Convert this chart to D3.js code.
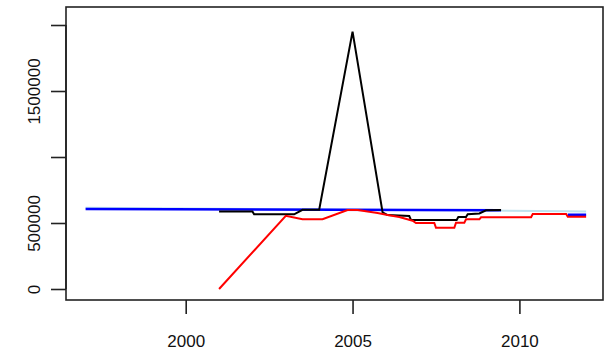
<!DOCTYPE html>
<html>
<head>
<meta charset="utf-8">
<script src="https://cdn.jsdelivr.net/npm/d3@7"></script>
<style>
html,body{margin:0;padding:0;background:#fff;}
svg{display:block;}
</style>
</head>
<body>
<svg id="chart" width="604" height="351"></svg>
<script>
// ---- data ----
const xTicks = [2000, 2005, 2010];
const yTicks = [0, 500000, 1000000, 1500000, 2000000];
const yTickLabels = ["0", "500000", "", "1500000", ""];

const lightBlueYears  = [1997, 2011.45, 2012];
const lightBlueValues = [615000, 589000, 588000];

const blueYears  = [1997, 2009.45, null, 2011.45, 2012];
const blueValues = [606000, 596000, null, 563000, 563000];

const blackYears  = [2001, 2002, 2002.05, 2003.25, 2003.5, 2004, 2005, 2005.9, 2006.05, 2006.7, 2006.75, 2008.12, 2008.17, 2008.4, 2008.45, 2008.8, 2009.0, 2009.45];
const blackValues = [588000, 588000, 566000, 566000, 600000, 600000, 1950000, 580000, 560000, 553000, 523000, 523000, 545000, 545000, 566000, 572000, 596000, 598000];

const redYears  = [2001, 2003.0, 2003.5, 2004.1, 2004.85, 2005.15, 2005.5, 2005.75, 2006.05, 2006.4, 2006.8, 2006.9, 2007.45, 2007.5, 2008.05, 2008.1, 2008.35, 2008.4, 2008.8, 2008.85, 2010.35, 2010.4, 2011.4, 2011.45, 2012.0];
const redValues = [0, 555000, 528000, 528000, 598000, 598000, 585000, 576000, 561000, 545000, 517000, 500000, 500000, 464000, 464000, 502000, 502000, 528000, 528000, 543000, 543000, 568000, 568000, 548000, 548000];

// ---- layout ----
const svg = d3.select("#chart");
const box = {left: 66, right: 603, top: 7, bottom: 300};

const x = d3.scaleLinear().domain([2000, 2010]).range([185.7, 519.4]);
const y = d3.scaleLinear().domain([0, 2000000]).range([289, 25]);

function pts(xs, vs) { return xs.map((d, i) => ({x: d, v: vs[i]})); }

const line = d3.line()
  .defined(d => d.x !== null && d.v !== null)
  .x(d => x(d.x)).y(d => y(d.v));

const g = svg.append("g");

g.append("path").datum(pts(lightBlueYears, lightBlueValues))
  .attr("d", line).attr("fill", "none").attr("stroke", "#bfe2ee").attr("stroke-width", 2);
g.append("path").datum(pts(blueYears, blueValues))
  .attr("d", line).attr("fill", "none").attr("stroke", "#0000ff").attr("stroke-width", 2.5);
g.append("path").datum(pts(blackYears, blackValues))
  .attr("d", line).attr("fill", "none").attr("stroke", "#000").attr("stroke-width", 2);
g.append("path").datum(pts(redYears, redValues))
  .attr("d", line).attr("fill", "none").attr("stroke", "#ff0000").attr("stroke-width", 2);

// box
svg.append("rect")
  .attr("x", box.left).attr("y", box.top)
  .attr("width", box.right - box.left).attr("height", box.bottom - box.top)
  .attr("fill", "none").attr("stroke", "#222").attr("stroke-width", 1.6);

// x axis
const xAxis = d3.axisBottom(x).tickValues(xTicks).tickFormat(d3.format("d"))
  .tickSizeInner(14).tickSizeOuter(0).tickPadding(21);
const gx = svg.append("g").attr("transform", `translate(0,${box.bottom})`).call(xAxis);
gx.select(".domain").remove();
gx.selectAll(".tick line").attr("stroke", "#222").attr("stroke-width", 1.6);
gx.selectAll("text").attr("font-family", "Liberation Sans, Arial, sans-serif")
  .attr("font-size", 17).attr("fill", "#111");

// y axis
const yAxis = d3.axisLeft(y).tickValues(yTicks).tickFormat((d, i) => yTickLabels[i])
  .tickSizeInner(15).tickSizeOuter(0).tickPadding(0);
const gy = svg.append("g").attr("transform", `translate(${box.left},0)`).call(yAxis);
gy.select(".domain").attr("stroke", "#222").attr("stroke-width", 1.6)
  .attr("d", `M0,${y(0)}V${y(2000000)}`);
gy.selectAll(".tick line").attr("stroke", "#222").attr("stroke-width", 1.6);
gy.selectAll(".tick text")
  .attr("font-family", "Liberation Sans, Arial, sans-serif")
  .attr("font-size", 17).attr("fill", "#111")
  .attr("x", 0).attr("dy", null)
  .attr("text-anchor", "middle")
  .attr("transform", "translate(-26,0) rotate(-90)")
  .attr("dominant-baseline", "auto")
  .attr("y", 0);
</script>
</body>
</html>
